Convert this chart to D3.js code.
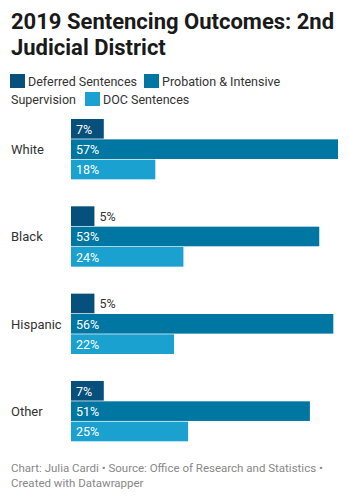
<!DOCTYPE html>
<html>
<head>
<meta charset="utf-8">
<script src="https://cdn.jsdelivr.net/npm/d3@7"></script>
<style>
  body { margin: 0; background: #fff; font-family: Roboto, sans-serif; }
  svg text { font-family: Roboto, sans-serif; }
</style>
</head>
<body>
<div id="chart"></div>
<script>
// data
const categories = ['White', 'Black', 'Hispanic', 'Other'];
const seriesNames = ['Deferred Sentences', 'Probation & Intensive Supervision', 'DOC Sentences'];
const deferred = [7, 5, 5, 7];
const probation = [57, 53, 56, 51];
const doc = [18, 24, 22, 25];
const colors = ['#06507b', '#0077a2', '#1aa1cf'];

const width = 349, height = 500;
const margin = { left: 71, right: 11 };

const rows = categories.map((c, i) => ({
  cat: c,
  values: [deferred[i], probation[i], doc[i]]
}));

const svg = d3.select('#chart')
  .append('svg')
  .attr('width', width)
  .attr('height', height);

// title
const title = svg.append('text')
  .attr('x', 11)
  .attr('font-size', 22)
  .attr('font-weight', 700)
  .attr('fill', '#1a1a1a');
title.append('tspan').attr('x', 11).attr('y', 29).text('2019 Sentencing Outcomes: 2nd');
title.append('tspan').attr('x', 11).attr('y', 55).text('Judicial District');

// legend (manually wrapped like the original)
const legendItems = [
  { i: 0, x: 10, y: 74, label: 'Deferred Sentences' },
  { i: 1, x: 144, y: 74, label: 'Probation & Intensive' },
  { i: 2, x: 85, y: 92, label: 'DOC Sentences' }
];
const legend = svg.append('g').attr('font-size', 12.5).attr('fill', '#333');
legend.selectAll('rect')
  .data(legendItems)
  .join('rect')
  .attr('x', d => d.x)
  .attr('y', d => d.y)
  .attr('width', 15)
  .attr('height', 14)
  .attr('fill', d => colors[d.i]);
legend.selectAll('text.item')
  .data(legendItems)
  .join('text')
  .attr('class', 'item')
  .attr('x', d => d.x + 18)
  .attr('y', d => d.y + 11.5)
  .text(d => d.label);
legend.append('text')
  .attr('x', 11)
  .attr('y', 92 + 11.5)
  .text('Supervision');

// scales
const x = d3.scaleLinear()
  .domain([0, d3.max(probation)])
  .range([margin.left, width - margin.right]);

const y = d3.scaleBand()
  .domain(categories)
  .range([119, 442])
  .paddingInner(0.301);

const yInner = d3.scaleBand()
  .domain(d3.range(3))
  .range([0, y.bandwidth()]);

const group = svg.selectAll('g.row')
  .data(rows)
  .join('g')
  .attr('class', 'row')
  .attr('transform', d => `translate(0,${y(d.cat)})`);

group.append('text')
  .attr('x', 11)
  .attr('y', y.bandwidth() / 2)
  .attr('dy', '0.35em')
  .attr('font-size', 13)
  .attr('fill', '#333')
  .text(d => d.cat);

const bars = group.selectAll('g.bar')
  .data(d => d.values.map((v, i) => ({ v, i })))
  .join('g')
  .attr('class', 'bar');

bars.append('rect')
  .attr('x', x(0))
  .attr('y', d => yInner(d.i))
  .attr('width', d => x(d.v) - x(0))
  .attr('height', yInner.bandwidth() - 0.7)
  .attr('fill', d => colors[d.i]);

bars.append('text')
  .attr('x', d => (x(d.v) - x(0) > 28 ? x(0) + 5 : x(d.v) + 5))
  .attr('y', d => yInner(d.i) + yInner.bandwidth() / 2)
  .attr('dy', '0.35em')
  .attr('font-size', 12.5)
  .attr('fill', d => (x(d.v) - x(0) > 28 ? '#fff' : '#333'))
  .text(d => d.v + '%');

// footer
const foot = svg.append('text')
  .attr('font-size', 11.5)
  .attr('fill', '#888');
foot.append('tspan').attr('x', 11).attr('y', 472).text('Chart: Julia Cardi • Source: Office of Research and Statistics •');
foot.append('tspan').attr('x', 11).attr('y', 487).text('Created with Datawrapper');
</script>
</body>
</html>
